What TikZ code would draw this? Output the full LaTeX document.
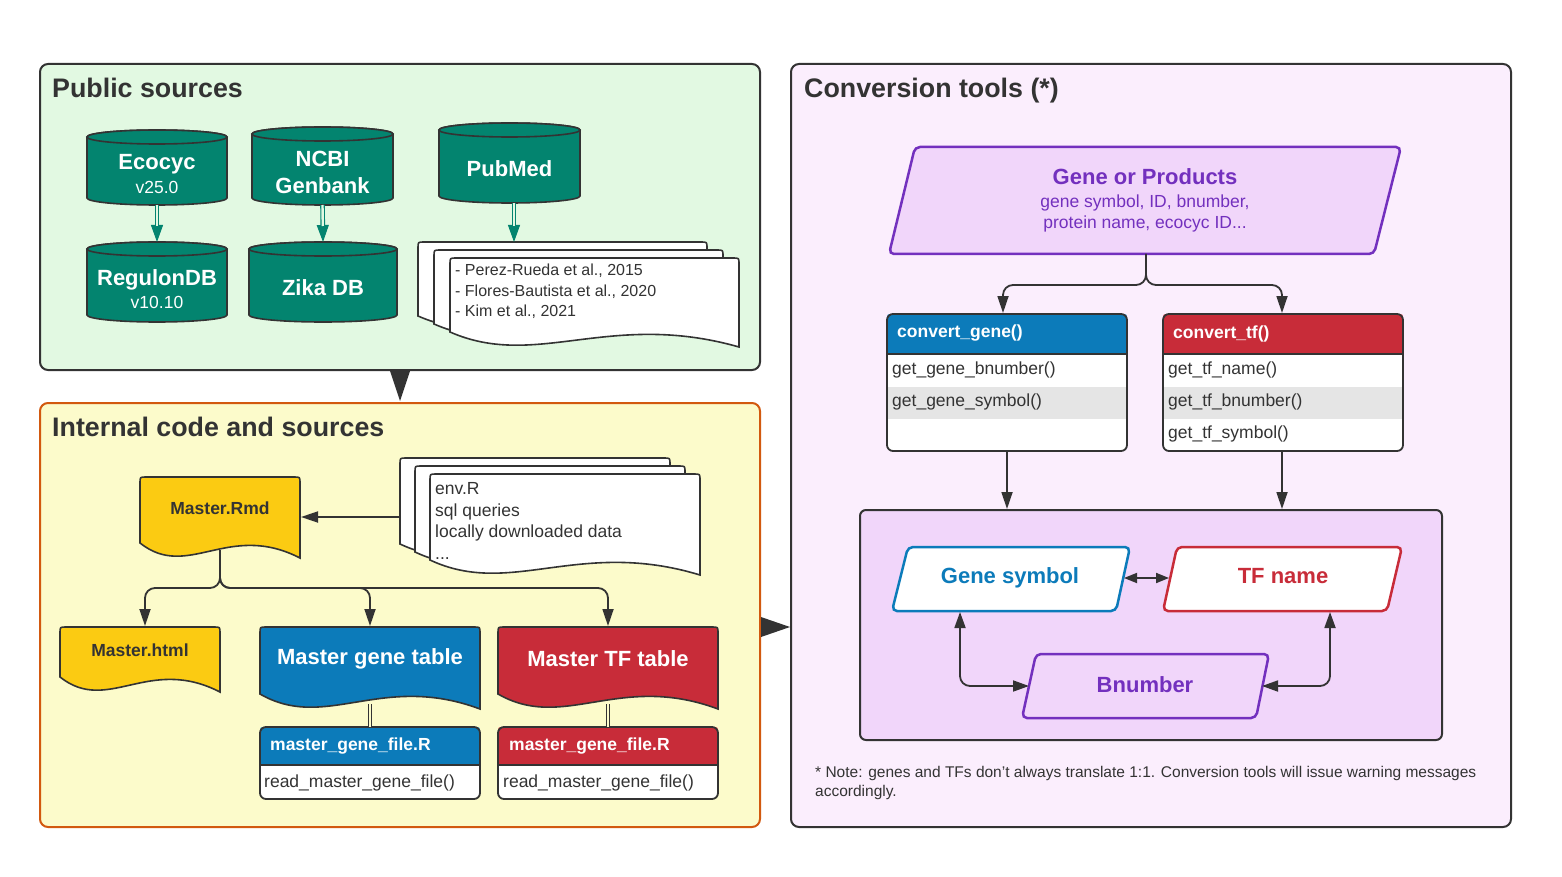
\documentclass[tikz,border=0pt]{standalone}
\usepackage{fontspec}
\setmainfont{Liberation Sans}
\usetikzlibrary{arrows.meta}
\definecolor{ink}{HTML}{333333}
\definecolor{cylc}{HTML}{03846F}
\definecolor{pubbg}{HTML}{E2F9E2}
\definecolor{intbg}{HTML}{FCFBCB}
\definecolor{intbd}{HTML}{D2590F}
\definecolor{convbg}{HTML}{FBEEFD}
\definecolor{innerbg}{HTML}{F1D6FA}
\definecolor{docy}{HTML}{FBCB12}
\definecolor{blu}{HTML}{0C7BBA}
\definecolor{redd}{HTML}{C82C39}
\definecolor{purp}{HTML}{7330BE}
\definecolor{rowgray}{HTML}{E5E5E5}
\newcommand\fs[2]{\fontsize{#1}{#2}\selectfont}
\newcommand\dbcyl[5]{%
 \pgfmathsetmacro\cylx{(#2+#3)/2}%
 \pgfmathsetmacro\cylr{(#3-#2)/2}%
 \draw[cyl] (#2,#4+7) -- (#2,#5-7) arc[start angle=180,end angle=0,x radius=\cylr,y radius=7] -- (#3,#4+7) arc[start angle=0,end angle=-180,x radius=\cylr,y radius=7] -- cycle;
 \draw[cyl] (\cylx,#4+7) ellipse[x radius=\cylr,y radius=7];
 \coordinate (#1-t) at (\cylx,#4);
 \coordinate (#1-b) at (\cylx,#5);}
\newcommand\docshape[5]{%
 \draw[#1] (#2,#5) -- (#2,#4+6) .. controls (#2,#4) .. (#2+6,#4) -- (#3-6,#4) .. controls (#3,#4) .. (#3,#4+6) -- (#3,#5+15) .. controls ({#2+0.55*(#3-#2)},#5-22) and ({#2+0.3*(#3-#2)},#5+38) .. (#2,#5) -- cycle;}
\newcommand\classbox[8]{%
 \fill[white, rounded corners=6pt] (#1,#3) rectangle (#2,#5);
 \fill[#6] (#1,#4) -- (#1,#3+6) .. controls (#1,#3) .. (#1+6,#3) -- (#2-6,#3) .. controls (#2,#3) .. (#2,#3+6) -- (#2,#4) -- cycle;
 \fill[rowgray] (#1,#7) rectangle (#2,#8);
 \draw[ink, line width=1.6pt] (#1,#4) -- (#2,#4);
 \draw[ink, line width=1.8pt, rounded corners=6pt] (#1,#3) rectangle (#2,#5);}
\begin{document}
\begin{tikzpicture}[x=1pt,y=-1pt,
 panel/.style={line width=2pt, rounded corners=8pt},
 ptitle/.style={anchor=base west, font=\fs{26.8}{30}\bfseries, text=ink, inner sep=0pt},
 cyl/.style={fill=cylc, draw=ink, line width=1.6pt},
 cyltext/.style={text=white, align=center, font=\fs{22}{27}\bfseries, inner sep=0pt},
 paper/.style={fill=white, draw=ink, line width=1.6pt},
 ydoc/.style={fill=docy, draw=ink, line width=1.6pt},
 bdoc/.style={fill=blu, draw=ink, line width=1.6pt},
 rdoc/.style={fill=redd, draw=ink, line width=1.6pt},
 doctext/.style={text=ink, align=left, anchor=west, inner sep=0pt},
 bold17/.style={font=\fs{17.5}{21}\bfseries, inner sep=0pt},
 reg17/.style={font=\fs{17.5}{21}, text=ink, inner sep=0pt, anchor=west},
 hdr17/.style={font=\fs{17.5}{21}\bfseries, text=white, inner sep=0pt, anchor=west},
 tealhead/.style={draw=cylc, line width=1pt, -{Triangle[length=17pt,width=12pt]}},
 tealshaft/.style={draw=cylc, line width=1.1pt, double=pubbg, double distance=2.4pt, shorten >=16pt},
 dblline/.style={draw=ink, line width=1pt, double=intbg, double distance=2.4pt},
 conn/.style={draw=ink, line width=1.8pt, rounded corners=10pt, -{Triangle[length=17pt,width=11pt]}},
 conn2/.style={draw=ink, line width=1.8pt, rounded corners=10pt, {Triangle[length=16pt,width=11pt]}-{Triangle[length=16pt,width=11pt]}},
 conn3/.style={draw=ink, line width=1.8pt, {Triangle[length=13pt,width=10pt]}-{Triangle[length=13pt,width=10pt]}},
 para/.style={line width=2.5pt, rounded corners=5pt}]
\useasboundingbox (0,0) rectangle (1562,877);
\fill[white] (0,0) rectangle (1562,877);
% panels
\draw[panel, fill=pubbg, draw=ink] (40,64) rectangle (760,370);
\draw[panel, fill=intbg, draw=intbd] (40,403) rectangle (760,827);
\draw[panel, fill=convbg, draw=ink] (791,64) rectangle (1511,827);
\node[ptitle] (t1) at (52,98) {Public sources};
\node[ptitle] (t2) at (52,436) {Internal code and sources};
\node[ptitle] (t3) at (804,98) {Conversion tools (*)};
\fill[ink] (390,371) -- (410,371) -- (400,401) -- cycle;
\fill[ink] (761,617) -- (761,637) -- (790,627) -- cycle;
% cylinders
\dbcyl{eco}{87}{227}{130}{205}
\node[cyltext] (ecot) at (157,174) {Ecocyc\\[-3pt]\fs{17.5}{21}\mdseries v25.0};
\dbcyl{reg}{87}{227}{242}{322}
\node[cyltext] (regt) at (157,289) {RegulonDB\\[-4pt]\fs{17.5}{21}\mdseries v10.10};
\dbcyl{ncbi}{252}{393}{127}{205}
\node[cyltext] (ncbit) at (322.5,172) {NCBI\\Genbank};
\dbcyl{zika}{249}{397}{242}{322}
\node[cyltext] (zikat) at (323,288) {Zika DB};
\dbcyl{pub}{439}{580}{123}{203}
\node[cyltext] (pubt) at (509.5,169) {PubMed};
\coordinate (pubb) at (514,203);
\coordinate (papert) at (514,242);
% paper stack
\docshape{paper}{418}{707}{242}{316}
\docshape{paper}{434}{723}{250}{324}
\docshape{paper}{450}{739}{258}{332}
\node[doctext, font=\fs{16}{20.3}] (refs) at (455,291.5) {- Perez-Rueda et al., 2015\\- Flores-Bautista et al., 2020\\- Kim et al., 2021};
% teal arrows
\draw[tealhead] (eco-b) -- (reg-t);
\draw[tealshaft] (eco-b) -- (reg-t);
\draw[tealhead] (ncbi-b) -- (zika-t);
\draw[tealshaft] (ncbi-b) -- (zika-t);
\draw[tealhead] (pubb) -- (papert);
\draw[tealshaft] (pubb) -- (papert);
% internal
\docshape{paper}{400}{670}{458}{544}
\docshape{paper}{415}{685}{466}{552}
\docshape{paper}{430}{700}{474}{560}
\node[doctext, font=\fs{17.5}{21.6}] (envt) at (435,521) {env.R\\sql queries\\locally downloaded data\\...};
\coordinate (envl) at (400,517);
\docshape{ydoc}{140}{300}{477}{543}
\node[bold17, text=ink] (rmd) at (220,508) {Master.Rmd};
\coordinate (rmdr) at (301,517);
\coordinate (rmdb) at (220,550);
\docshape{ydoc}{60}{220}{627}{677}
\node[bold17, text=ink] (html) at (140,650) {Master.html};
\coordinate (htmlt) at (145,626);
\docshape{bdoc}{260}{480}{627}{694}
\node[font=\fs{22}{26}\bfseries, text=white, inner sep=0pt] (mgt) at (370,659) {Master gene table};
\coordinate (mgtt) at (370,626);
\coordinate (mgtb) at (370,704);
\docshape{rdoc}{498}{718}{627}{694}
\node[font=\fs{22}{26}\bfseries, text=white, inner sep=0pt] (mtf) at (608,659) {Master TF table};
\coordinate (mtft) at (608,626);
\coordinate (mtfb) at (608,704);
\classbox{260}{480}{727}{765}{799}{blu}{765}{765}
\node[hdr17] (mgf) at (270,746.5) {master\_gene\_file.R};
\node[reg17] (mgfr) at (264,783) {read\_master\_gene\_file()};
\coordinate (mgft) at (370,727);
\classbox{498}{718}{727}{765}{799}{redd}{765}{765}
\node[hdr17] (mtff) at (509,746.5) {master\_gene\_file.R};
\node[reg17] (mtffr) at (503,783) {read\_master\_gene\_file()};
\coordinate (mtfft) at (608,727);
\draw[conn] (envl) -- (rmdr);
\draw[conn] (rmdb) -- ++(0,38) -| (htmlt);
\draw[conn] (rmdb) -- ++(0,38) -| (mgtt);
\draw[conn] (rmdb) -- ++(0,38) -| (mtft);
\draw[dblline] (mgtb) -- (mgft);
\draw[dblline] (mtfb) -- (mtfft);
% conversion
\draw[para, fill=innerbg, draw=purp] (915,147) -- (1401,147) -- (1374,254) -- (889,254) -- cycle;
\node[text=purp, align=center, font=\fs{17.5}{21}, inner sep=0pt] (gop) at (1145,200) {{\fs{22}{24}\bfseries Gene or Products}\\[2pt]gene symbol, ID, bnumber,\\protein name, ecocyc ID...};
\coordinate (gopb) at (1146,254);
\classbox{887}{1127}{314}{354}{451}{blu}{387}{419}
\node[hdr17] (cg) at (897,333.5) {convert\_gene()};
\node[reg17] (cg1) at (892,369.5) {get\_gene\_bnumber()};
\node[reg17] (cg2) at (892,401.5) {get\_gene\_symbol()};
\coordinate (cgt) at (1003,313);
\coordinate (cgb) at (1007,451);
\classbox{1163}{1403}{314}{354}{451}{redd}{387}{419}
\node[hdr17] (ct) at (1173,333.5) {convert\_tf()};
\node[reg17] (ct1) at (1168,369.5) {get\_tf\_name()};
\node[reg17] (ct2) at (1168,401.5) {get\_tf\_bnumber()};
\node[reg17] (ct3) at (1168,433.5) {get\_tf\_symbol()};
\coordinate (ctt) at (1282,313);
\coordinate (ctb) at (1282,451);
\draw[conn] (gopb) -- ++(0,31) -| (cgt);
\draw[conn] (gopb) -- ++(0,31) -| (ctt);
\draw[fill=innerbg, draw=ink, line width=2pt, rounded corners=6pt] (860,510) rectangle (1442,740);
\coordinate (in1) at (1007,509);
\coordinate (in2) at (1282,509);
\draw[conn] (cgb) -- (in1);
\draw[conn] (ctb) -- (in2);
\draw[para, fill=white, draw=blu] (908,547) -- (1130,547) -- (1116,611) -- (892,611) -- cycle;
\node[font=\fs{22}{26}\bfseries, text=blu, inner sep=0pt] (gs) at (1010,577.5) {Gene symbol};
\draw[para, fill=white, draw=redd] (1177,547) -- (1402,547) -- (1387,611) -- (1163,611) -- cycle;
\node[font=\fs{22}{26}\bfseries, text=redd, inner sep=0pt] (tf) at (1283,576.5) {TF name};
\draw[para, fill=innerbg, draw=purp] (1036,654) -- (1269,654) -- (1256,718) -- (1022,718) -- cycle;
\node[font=\fs{22}{26}\bfseries, text=purp, inner sep=0pt] (bn) at (1145,684.5) {Bnumber};
\coordinate (gsr) at (1124,578);
\coordinate (tfl) at (1169,578);
\coordinate (gsb) at (960,612);
\coordinate (tfb) at (1330,612);
\coordinate (bnl) at (1029,686);
\coordinate (bnr) at (1262,686);
\draw[conn3] (gsr) -- (tfl);
\draw[conn2] (gsb) |- (bnl);
\draw[conn2] (tfb) |- (bnr);
\node[doctext, font=\fs{15.5}{19}] (note) at (815,783) {* Note: genes and TFs don't always translate 1:1. Conversion tools will issue warning messages\\accordingly.};
\end{tikzpicture}
\end{document}
